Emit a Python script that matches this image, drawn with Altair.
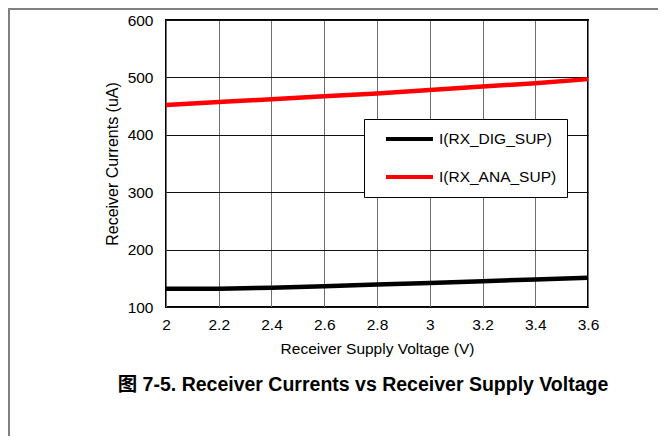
import altair as alt
import pandas as pd

voltage = [2.0, 2.2, 2.4, 2.6, 2.8, 3.0, 3.2, 3.4, 3.6]
dig_current = [132, 132, 133.5, 136, 139, 142, 145, 148, 151]
ana_current = [452, 457, 462, 467, 472, 478, 484, 490, 497]
series_names = ["I(RX_DIG_SUP)", "I(RX_ANA_SUP)"]
series_colors = ["#000000", "#ff0000"]
x_ticks = [2.0, 2.2, 2.4, 2.6, 2.8, 3.0, 3.2, 3.4, 3.6]
y_ticks = [100, 200, 300, 400, 500, 600]

rows = []
for v, d, a in zip(voltage, dig_current, ana_current):
    rows.append({"V": v, "I": d, "series": series_names[0]})
    rows.append({"V": v, "I": a, "series": series_names[1]})
df = pd.DataFrame(rows)

FONT = "Liberation Sans, Arial, Noto Sans CJK SC"

lines = alt.Chart(df).mark_line(strokeWidth=4.5, strokeCap="butt").encode(
    x=alt.X("V:Q",
            scale=alt.Scale(domain=[2, 3.6], nice=False, zero=False),
            axis=alt.Axis(values=x_ticks, format="~g", title="Receiver Supply Voltage (V)",
                          gridColor="#6e6e6e", labelPadding=10, titlePadding=9,
                          labelFlush=False)),
    y=alt.Y("I:Q",
            scale=alt.Scale(domain=[100, 600], nice=False, zero=False),
            axis=alt.Axis(values=y_ticks, title="Receiver Currents (uA)",
                          gridColor="#111111", labelPadding=13, titlePadding=7,
                          titleFontSize=16, labelFlush=False)),
    color=alt.Color("series:N",
                    scale=alt.Scale(domain=series_names, range=series_colors),
                    sort=series_names,
                    legend=alt.Legend(title=None, orient="none", legendX=198, legendY=99,
                                      symbolType="stroke", symbolSize=2209,
                                      symbolStrokeWidth=4, labelOffset=4,
                                      padding=10, symbolOffset=10, rowPadding=18,
                                      clipHeight=20,
                                      strokeColor="#000000", fillColor="#ffffff",
                                      labelFontSize=15.5, labelFont=FONT,
                                      labelColor="#000000", labelExpr="datum.label + '     '")),
    detail="series:N",
)

frame_left = alt.Chart(pd.DataFrame({"k": [0]})).mark_rule(color="#808080", strokeWidth=2).encode(
    x=alt.value(-157), y=alt.value(-12), y2=alt.value(416)
)
frame_top = alt.Chart(pd.DataFrame({"k": [0]})).mark_rule(color="#808080", strokeWidth=2).encode(
    x=alt.value(-158), x2=alt.value(500), y=alt.value(-11)
)

chart = alt.layer(frame_left, frame_top, lines).properties(
    width=422, height=287,
    autosize=alt.AutoSizeParams(type="none"),
    padding={"left": 158, "top": 12, "right": 70, "bottom": 129},
    title=alt.TitleParams("图 7-5. Receiver Currents vs Receiver Supply Voltage",
                          orient="bottom", anchor="middle", fontSize=19.5,
                          fontWeight="bold", font=FONT, color="#000000",
                          dx=-14, offset=-61),
).configure_view(
    stroke="#000000", strokeWidth=2
).configure_axis(
    domain=False, ticks=False, tickSize=0, grid=True, gridWidth=1, gridOpacity=1,
    labelFont=FONT, titleFont=FONT, labelFontSize=15.5, titleFontSize=15.5,
    labelColor="#000000", titleColor="#000000", titleFontWeight="normal",
    labelOverlap=False
)

chart.save("out.html", embed_options={"renderer": "svg", "actions": False})
